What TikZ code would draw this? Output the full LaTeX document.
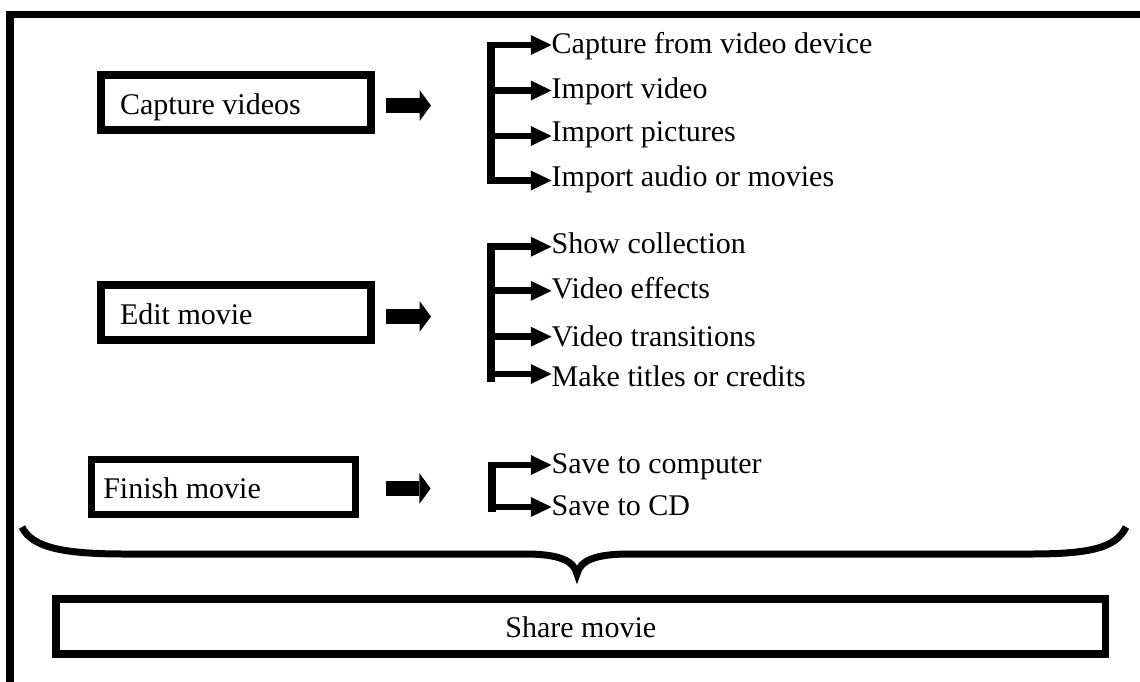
\documentclass[tikz,border=0pt]{standalone}
\usepackage{fontspec}
\setmainfont{Liberation Serif}
\usetikzlibrary{arrows.meta}
\begin{document}
\begin{tikzpicture}[x=1pt,y=-1pt,
  stage/.style={draw, line width=7.3pt, minimum height=55pt, text height=23pt, text depth=0pt, align=flush left, font=\fontsize{30pt}{36pt}\selectfont},
  item/.style={anchor=west, inner sep=0pt, text depth=0pt, font=\fontsize{30pt}{36pt}\selectfont},
  blockarr/.style={line width=15.6pt, -{Triangle[length=11.4pt,width=31pt,line width=0pt]}},
  branch/.style={line width=6.8pt, -{Triangle[length=20.7pt,width=20pt,line width=0pt]}},
  spine/.style={line width=7.7pt},
  frame/.style={line width=7.6pt, line join=miter},
  brace/.style={line width=7pt},
]
\useasboundingbox (0,0) rectangle (1140,681);
% outer frame (top and left edges)
\draw[frame] (9.7,700) -- (9.7,14.5) -- (1160,14.5);

% stage boxes
\node[stage, text width=232pt, inner xsep=19pt] (cap) at (236,102.5) {Capture videos};
\node[stage, text width=232pt, inner xsep=19pt] (edit) at (236,312.6) {Edit movie};
\node[stage, text width=240.4pt, inner xsep=11.8pt] (fin) at (223.5,486.7) {Finish movie};
\node[stage, text width=1000pt, inner xsep=24.75pt, align=flush center] (share) at (580.75,626.35) {Share movie};

% block arrows
\draw[blockarr] ([xshift=11.3pt,yshift=-3pt]cap.east) -- ++(45,0);
\draw[blockarr] ([xshift=11.3pt,yshift=-3.9pt]edit.east) -- ++(45,0);
\draw[blockarr] ([xshift=26.5pt,yshift=-1.8pt]fin.east) -- ++(45,0);

% group 1
\coordinate (s1) at (491,0);
\node[item, text height=16.6pt] (c1) at (551.5,45) {Capture from video device};
\node[item, text height=15.6pt] (c2) at (551.5,90.5) {Import video};
\node[item, text height=11.8pt] (c3) at (551.5,136) {Import pictures};
\node[item, text height=12pt] (c4) at (551.5,180.5) {Import audio or movies};
\draw[spine] ([yshift=3.4pt]c1.west -| s1) -- ([yshift=-3.4pt]c4.west -| s1);
\foreach \n in {c1,c2,c3,c4} \draw[branch] (\n.west -| s1) -- (\n.west);

% group 2
\coordinate (s2) at (491,0);
\node[item, text height=13.2pt] (e1) at (551.5,246.7) {Show collection};
\node[item, text height=15pt] (e2) at (551.5,290.8) {Video effects};
\node[item, text height=20pt] (e3) at (551.5,336.7) {Video transitions};
\node[item, text height=25.4pt] (e4) at (551.5,374) {Make titles or credits};
\draw[spine] ([yshift=3.4pt]e1.west -| s2) -- ([yshift=-7.5pt]e4.west -| s2);
\foreach \n in {e1,e2,e3,e4} \draw[branch] (\n.west -| s2) -- (\n.west);

% group 3
\coordinate (s3) at (492,0);
\node[item, text height=16.6pt] (f1) at (551.5,465) {Save to computer};
\node[item, text height=16pt] (f2) at (551.5,507) {Save to CD};
\draw[spine] ([yshift=3.4pt]f1.west -| s3) -- ([yshift=-4.7pt]f2.west -| s3);
\foreach \n in {f1,f2} \draw[branch] (\n.west -| s3) -- (\n.west);

% brace
\coordinate (bl) at (22,527);
\coordinate (bt) at (577,574);
\coordinate (br) at (1126,527);
\draw[brace] (bl) .. controls (32,548) and (65,554) .. (125,554) -- (525,554)
  .. controls (560,554) and (574,561) .. (bt)
  .. controls (580,561) and (594,554) .. (629,554) -- (1030,554)
  .. controls (1090,554) and (1116,548) .. (br);
\end{tikzpicture}
\end{document}
